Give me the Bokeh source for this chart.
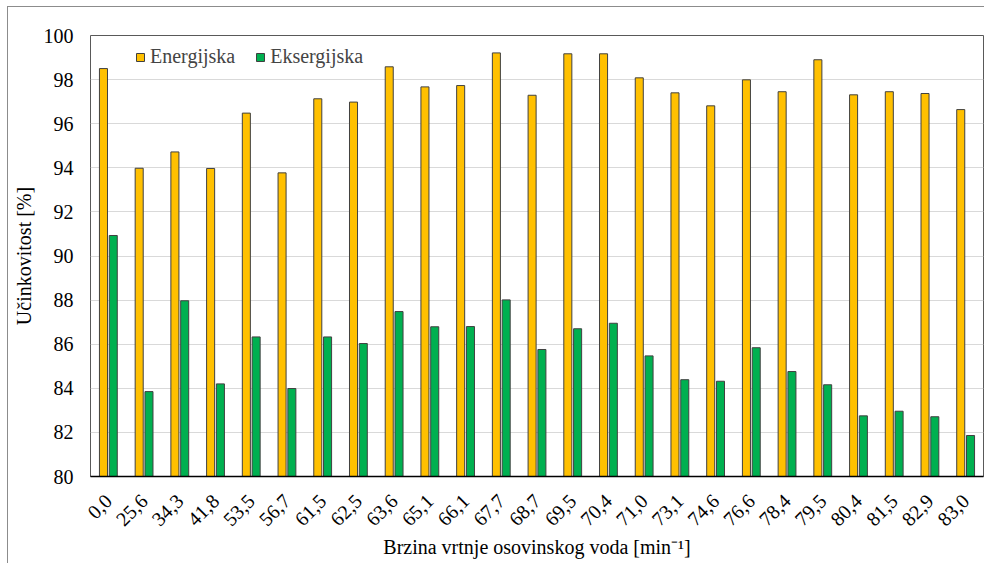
import math
from bokeh.plotting import figure
from bokeh.models import ColumnDataSource, FixedTicker, Range1d, Legend, LegendItem
from bokeh.embed import file_html
from bokeh.resources import INLINE

categories = ["0,0", "25,6", "34,3", "41,8", "53,5", "56,7", "61,5", "62,5", "63,6",
              "65,1", "66,1", "67,7", "68,7", "69,5", "70,4", "71,0", "73,1", "74,6",
              "76,6", "78,4", "79,5", "80,4", "81,5", "82,9", "83,0"]
energijska = [98.50, 93.98, 94.72, 93.97, 96.48, 93.77, 97.13, 96.98, 98.58,
              97.67, 97.73, 99.21, 97.29, 99.17, 99.17, 98.08, 97.40, 96.81,
              97.99, 97.45, 98.90, 97.31, 97.45, 97.37, 96.64]
eksergijska = [90.93, 83.85, 87.97, 84.20, 86.33, 83.99, 86.33, 86.03, 87.48,
               86.79, 86.80, 88.01, 85.76, 86.70, 86.95, 85.47, 84.39, 84.32,
               85.84, 84.76, 84.16, 82.75, 82.96, 82.71, 81.86]
y_ticks = [80, 82, 84, 86, 88, 90, 92, 94, 96, 98, 100]

FONT = "Liberation Serif"
FS = "20px"
n = len(categories)
idx = list(range(n))
src = ColumnDataSource(dict(
    xe=[i - 0.137 for i in idx],
    xk=[i + 0.137 for i in idx],
    e=energijska, k=eksergijska,
))

p = figure(width=984, height=563, output_backend="svg", toolbar_location=None,
           x_range=Range1d(-0.5, n - 0.5), y_range=Range1d(80, 100),
           min_border_left=90, min_border_top=35, min_border_right=1, min_border_bottom=87)
p.border_fill_color = None
p.background_fill_color = "white"
p.styles = {
    "background-color": "white",
    "background-image": "linear-gradient(#8c8c8c, #8c8c8c), linear-gradient(#8c8c8c, #8c8c8c)",
    "background-position": "7px 6px, 7px 6px",
    "background-size": "1px 100%, 100% 1px",
    "background-repeat": "no-repeat",
}

re = p.vbar(x="xe", top="e", bottom=80, width=0.225, source=src,
            fill_color="#FFC000", line_color="#404040", line_width=1)
rk = p.vbar(x="xk", top="k", bottom=80, width=0.225, source=src,
            fill_color="#00B050", line_color="#404040", line_width=1)

p.outline_line_color = "#595959"
p.outline_line_width = 1
p.xgrid.grid_line_color = None
p.ygrid.grid_line_color = "#d9d9d9"
p.ygrid.grid_line_width = 1

p.yaxis.ticker = FixedTicker(ticks=y_ticks)
p.yaxis.axis_line_color = None
p.yaxis.major_tick_line_color = None
p.yaxis.minor_tick_line_color = None
p.yaxis.major_label_standoff = 11
p.yaxis.axis_label = "Učinkovitost [%]"
p.yaxis.axis_label_standoff = 6

p.xaxis.ticker = FixedTicker(ticks=idx)
p.xaxis.major_label_overrides = {i: c for i, c in zip(idx, categories)}
p.xaxis.major_label_orientation = math.pi / 4
p.xaxis.axis_line_color = "black"
p.xaxis.axis_line_width = 1.5
p.xaxis.major_tick_line_color = None
p.xaxis.minor_tick_line_color = None
p.xaxis.major_label_standoff = 15
p.xaxis.axis_label = "Brzina vrtnje osovinskog voda [min⁻¹]"
p.xaxis.axis_label_standoff = 1

for ax in (p.xaxis[0], p.yaxis[0]):
    ax.major_label_text_font = FONT
    ax.major_label_text_font_size = FS
    ax.major_label_text_color = "black"
    ax.axis_label_text_font = FONT
    ax.axis_label_text_font_size = FS
    ax.axis_label_text_font_style = "normal"
    ax.axis_label_text_color = "black"

legend = Legend(items=[LegendItem(label="Energijska", renderers=[re]),
                       LegendItem(label="Eksergijska", renderers=[rk])],
                orientation="horizontal", location=(45, 408),
                glyph_width=10, glyph_height=10, label_standoff=5, spacing=20,
                padding=0, margin=0, border_line_color=None,
                background_fill_alpha=0,
                label_text_font=FONT, label_text_font_size=FS,
                label_height=20)
p.add_layout(legend)

open("out.html", "w").write(file_html(p, INLINE))
